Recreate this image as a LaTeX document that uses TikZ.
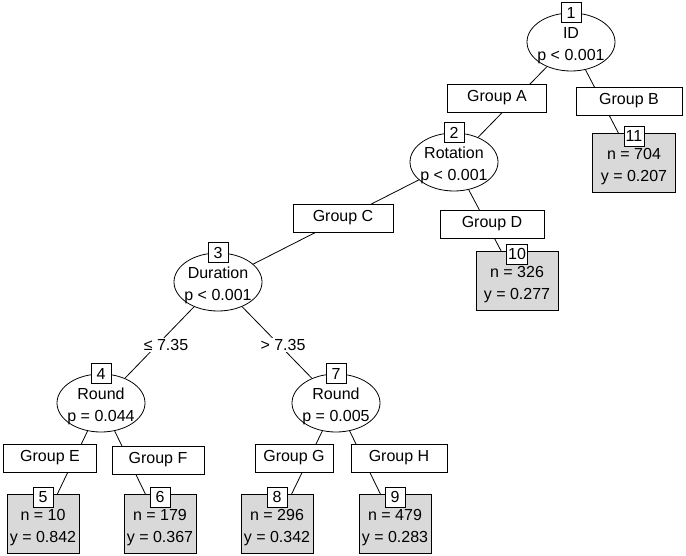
\documentclass[tikz,border=0pt]{standalone}
\usepackage{fontspec}
\setmainfont{Liberation Sans}
\usetikzlibrary{shapes.geometric}
\definecolor{leafgray}{RGB}{217,217,217}
\newcommand{\twolines}[2]{\makebox[0pt]{\raisebox{-8.5pt}[0pt][0pt]{\begin{tabular}{@{}c@{}}#1\\[3pt]#2\end{tabular}}}}
\begin{document}
\begin{tikzpicture}[x=1pt,y=-1pt,
  every node/.style={font=\fontsize{16}{19}\selectfont},
  inner/.style={ellipse,draw,line width=0.8pt,fill=white,inner sep=0pt,minimum width=88pt,minimum height=58pt},
  leaf/.style={rectangle,draw,line width=0.8pt,fill=leafgray,inner sep=0pt,minimum height=59pt},
  numbox/.style={rectangle,draw,line width=0.8pt,fill=white,inner sep=1.5pt,minimum width=20pt,minimum height=20pt},
  grp/.style={rectangle,draw,line width=0.8pt,fill=white,inner sep=0pt,minimum height=28pt},
  elabel/.style={fill=white,inner sep=1pt},
  edge/.style={line width=0.8pt}]
\useasboundingbox (0,0) rectangle (686,556);
% inner nodes
\node[inner] (n1) at (571,42) {\twolines{ID}{p < 0.001}};
\node[inner] (n2) at (454,162) {\twolines{Rotation}{p < 0.001}};
\node[inner] (n3) at (218,282) {\twolines{Duration}{p < 0.001}};
\node[inner] (n4) at (101,403) {\twolines{Round}{p = 0.044}};
\node[inner] (n7) at (336,403) {\twolines{Round}{p = 0.005}};
% leaves
\node[leaf,minimum width=83pt] (n11) at (634,163) {\twolines{n = 704}{y = 0.207}};
\node[leaf,minimum width=82pt] (n10) at (517,281) {\twolines{n = 326}{y = 0.277}};
\node[leaf,minimum width=72pt] (n5) at (43,524) {\twolines{n = 10}{y = 0.842}};
\node[leaf,minimum width=72pt] (n6) at (160,524) {\twolines{n = 179}{y = 0.367}};
\node[leaf,minimum width=72pt] (n8) at (277,524) {\twolines{n = 296}{y = 0.342}};
\node[leaf,minimum width=72pt] (n9) at (395,524) {\twolines{n = 479}{y = 0.283}};
% edges
\draw[edge] (n1) -- (n2);
\draw[edge] (n1) -- (n11);
\draw[edge] (n2) -- (n3);
\draw[edge] (n2) -- (n10);
\draw[edge] (n3) -- (n4);
\draw[edge] (n3) -- (n7);
\draw[edge] (n4) -- (n5);
\draw[edge] (n4) -- (n6);
\draw[edge] (n7) -- (n8);
\draw[edge] (n7) -- (n9);
% edge labels
\node[grp,minimum width=99pt] (gA) at (497,98) {Group A};
\node[grp,minimum width=106pt] (gB) at (629,101) {Group B};
\node[grp,minimum width=100pt] (gC) at (343,218) {Group C};
\node[grp,minimum width=104pt] (gD) at (492,224) {Group D};
\node[grp,minimum width=93pt] (gE) at (50,458) {Group E};
\node[grp,minimum width=92pt] (gF) at (158,460) {Group F};
\node[grp,minimum width=78pt] (gG) at (294,458) {Group G};
\node[grp,minimum width=96pt] (gH) at (399,458) {Group H};
\node[elabel] (l34) at (166,345) {≤ 7.35};
\node[elabel] (l37) at (283,345) {> 7.35};
% number boxes
\node[numbox] (b1) at (n1.north) {1};
\node[numbox] (b2) at (n2.north) {2};
\node[numbox] (b3) at (n3.north) {3};
\node[numbox] (b4) at (n4.north) {4};
\node[numbox] (b7) at (n7.north) {7};
\node[numbox] (b11) at ([yshift=-3pt]n11.north) {11};
\node[numbox] (b10) at ([yshift=-3pt]n10.north) {10};
\node[numbox] (b5) at ([yshift=-3pt]n5.north) {5};
\node[numbox] (b6) at ([yshift=-3pt]n6.north) {6};
\node[numbox] (b8) at ([yshift=-3pt]n8.north) {8};
\node[numbox] (b9) at ([yshift=-3pt]n9.north) {9};
\end{tikzpicture}
\end{document}
